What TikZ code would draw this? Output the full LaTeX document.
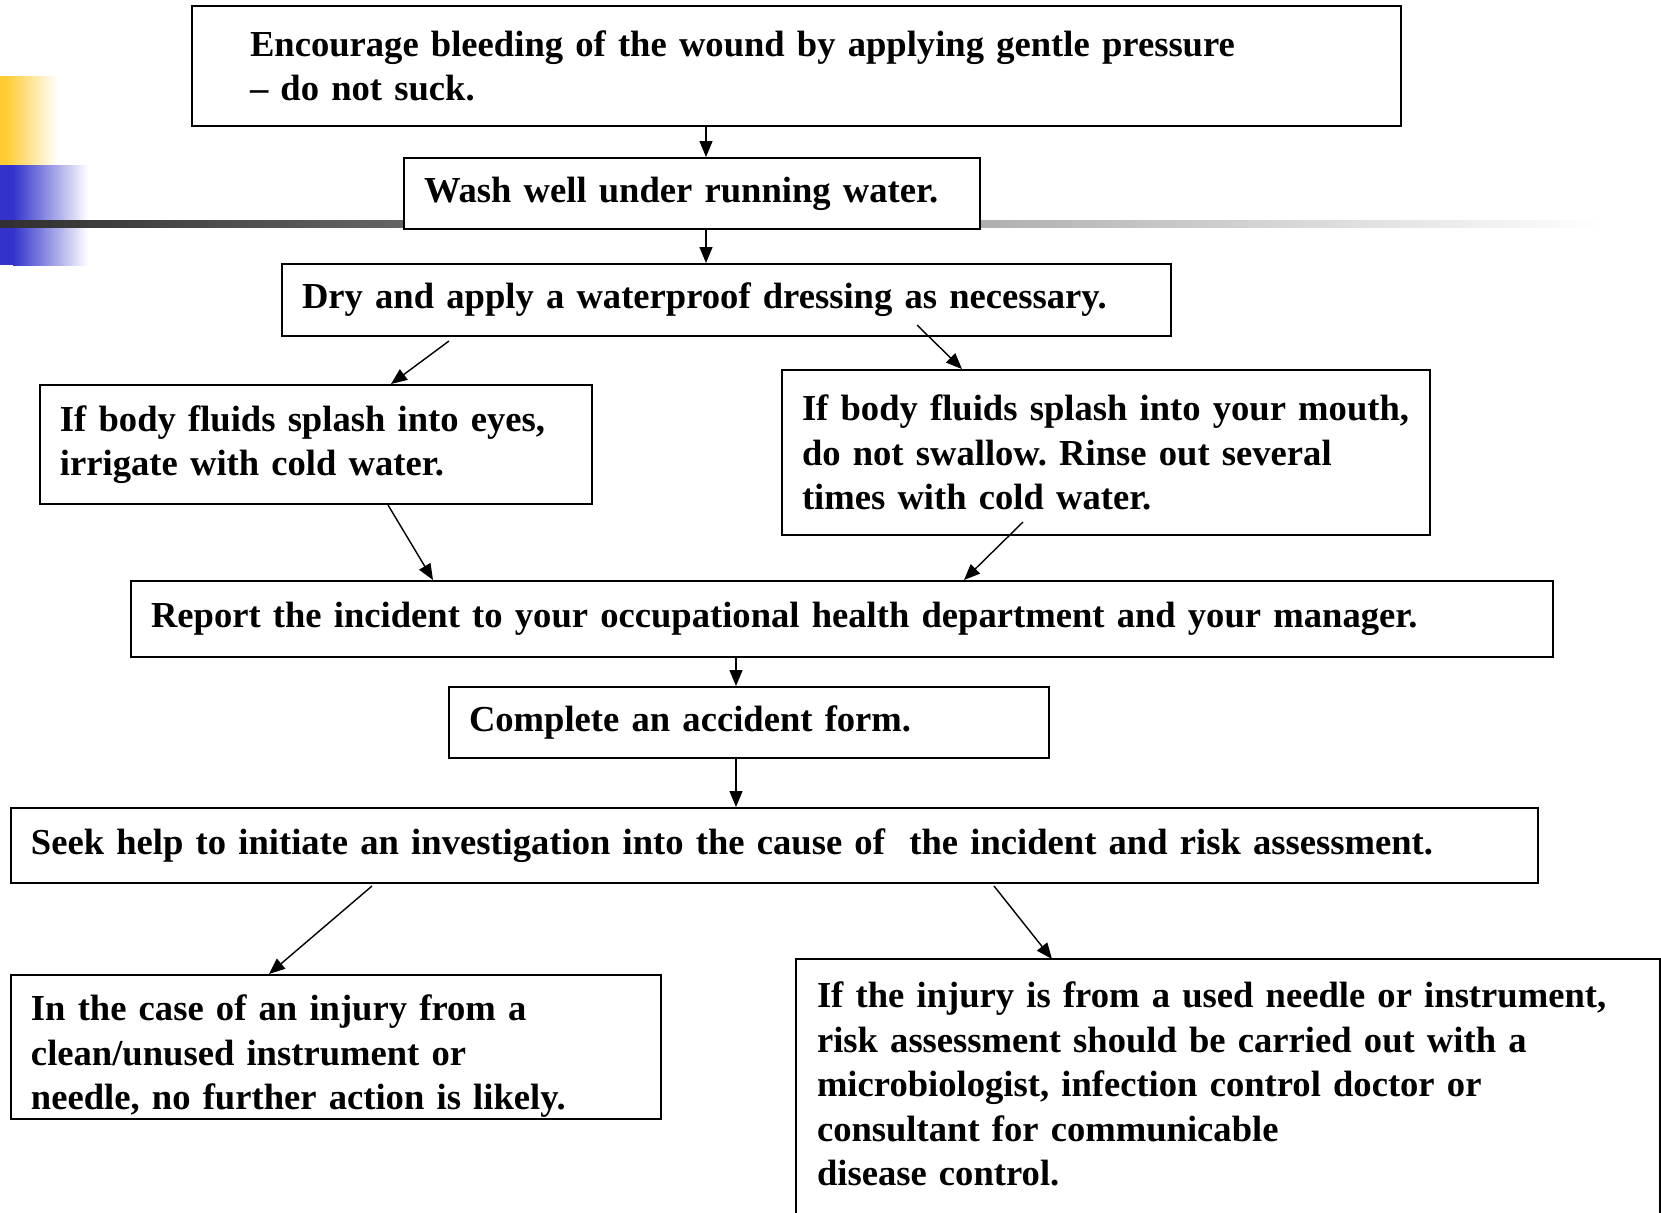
\documentclass[tikz,border=0pt]{standalone}
\usepackage{fontspec}
\setmainfont{Liberation Serif}
\usetikzlibrary{arrows.meta}
\definecolor{decoyellow}{HTML}{FFCC33}
\definecolor{decoblue}{HTML}{3333CC}
\definecolor{decoline}{HTML}{303030}
\frenchspacing

\begin{document}
\begin{tikzpicture}[x=0.5pt, y=-0.5pt,
    stepbox/.style={draw, line width=1pt, fill=white, align=left, inner xsep=10pt, inner ysep=0pt,
      font=\fontsize{18.3pt}{22.3pt}\selectfont\bfseries},
    arr/.style={-{Triangle[length=8pt,width=6.5pt]}, line width=0.7pt}]
  \useasboundingbox (0,0) rectangle (1661,1212);

  % slide decoration
  \fill[decoyellow] (0,76) rectangle (6,165);
  \shade[left color=decoyellow, right color=white] (6,76) rectangle (57,165);
  \fill[decoblue] (0,165) rectangle (13,265);
  \shade[left color=decoblue, right color=white] (13,165) rectangle (88,265);
  \shade[left color=decoline, middle color=black!28, right color=white] (0,220) rectangle (1600,227);

  % first aid steps
  \node[stepbox, text width=546.5pt, inner xsep=29pt, minimum height=60pt] (encourage) at (796.5,66)
    {Encourage bleeding of the wound by applying gentle pressure\\– do not suck.};
  \node[stepbox, text width=268pt, minimum height=35.5pt] (wash) at (692,193.5)
    {Wash well under running water.};
  \node[stepbox, text width=424.5pt, minimum height=36pt] (dry) at (726.5,300)
    {Dry and apply a waterproof dressing as necessary.};

  % splashes
  \node[stepbox, text width=256pt, minimum height=59.5pt] (eyes) at (316,444.5)
    {If body fluids splash into eyes,\\irrigate with cold water.};
  \node[stepbox, text width=304pt, minimum height=82.5pt] (mouth) at (1106,452.5)
    {\mbox{If body fluids splash into your mouth,}\\do not swallow. Rinse out several\\times with cold water.};

  % reporting
  \node[stepbox, text width=691pt, minimum height=38pt] (report) at (842,619)
    {Report the incident to your occupational health department and your manager.};
  \node[stepbox, text width=280pt, minimum height=35.5pt] (form) at (749,722.5)
    {Complete an accident form.};
  \node[stepbox, text width=743.5pt, minimum height=37.5pt] (seek) at (774.5,845.5)
    {Seek help to initiate an investigation into the cause of~ the incident and risk assessment.};

  % outcomes
  \node[stepbox, text width=305pt, minimum height=72pt] (clean) at (336,1047)
    {\rule{0pt}{22pt}In the case of an injury from a\\clean/unused instrument or\\needle, no further action is likely.};
  \node[stepbox, draw=none, fill=none, text width=411pt, minimum height=124pt] (used) at (1228,1084)
    {If the injury is from a used needle or instrument,\\risk assessment should be carried out with a\\microbiologist, infection control doctor or\\consultant for communicable\\disease control.};
  \draw[line width=1pt] ([yshift=-20pt]used.south west) |- (used.north east) -- ([yshift=-20pt]used.south east);

  % arrows
  \draw[arr] ([xshift=-45.25pt]encourage.south) -- ([xshift=7pt]wash.north);
  \draw[arr] ([xshift=7pt]wash.south) -- ([xshift=-10.25pt]dry.north);
  \draw[arr] ([xshift=-138.75pt, yshift=-2pt]dry.south) -- ([xshift=37.5pt]eyes.north);
  \draw[arr] ([xshift=95.25pt, yshift=6pt]dry.south) -- ([xshift=-72pt]mouth.north);
  \draw[arr] ([xshift=36pt]eyes.south) -- ([xshift=-204.5pt]report.north);
  \draw[arr] ([xshift=-41.5pt, yshift=7pt]mouth.south) -- ([xshift=61pt]report.north);
  \draw[arr] ([xshift=-53pt]report.south) -- ([xshift=-6.5pt]form.north);
  \draw[arr] ([xshift=-6.5pt]form.south) -- ([xshift=-19.25pt]seek.north);
  \draw[arr] ([xshift=-201.25pt, yshift=-1pt]seek.south) -- ([xshift=-33.5pt]clean.north);
  \draw[arr] ([xshift=109.75pt, yshift=-1pt]seek.south) -- ([xshift=-88pt]used.north);
\end{tikzpicture}
\end{document}
